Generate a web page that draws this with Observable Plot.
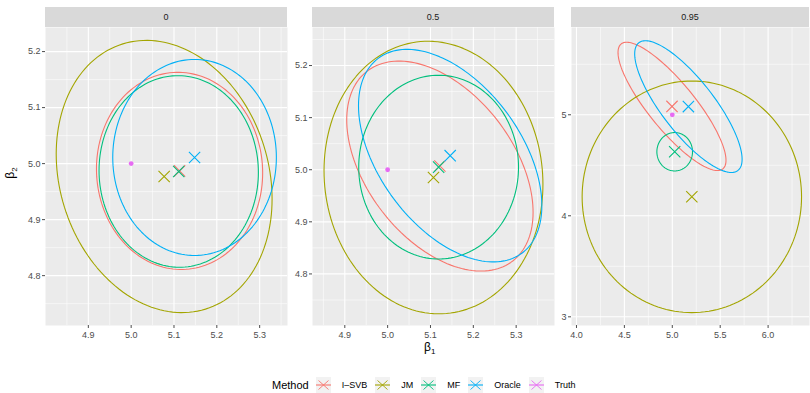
<!DOCTYPE html>
<html><head><meta charset="utf-8">
<script src="https://cdn.jsdelivr.net/npm/d3@7"></script>
<script src="https://cdn.jsdelivr.net/npm/@observablehq/plot@0.6"></script>
<style>
body{margin:0;background:#fff;font-family:"Liberation Sans",Arial,Helvetica,sans-serif;}
#chart{position:relative;width:810px;height:393px;overflow:hidden;background:#fff;}
.strip{position:absolute;top:7px;height:20px;background:#D9D9D9;color:#1A1A1A;font-size:9px;line-height:20px;text-align:center;}
.panel{position:absolute;top:27px;}
.atitle{position:absolute;font-size:12px;color:#000;white-space:nowrap;}
.atitle sub{font-size:8px;vertical-align:-3px;line-height:0;}
#legend{position:absolute;left:272px;top:376px;height:17px;display:flex;align-items:center;}
#legend .title{font-size:11px;color:#000;margin-right:7px;}
#legend .key{width:15px;height:16px;background:#F2F2F2;margin-right:11px;}
#legend .lab{font-size:9px;color:#000;margin-right:8px;}
</style></head><body><div id="chart"></div>
<script>
// ---- data ----
const methods = ["I–SVB", "JM", "MF", "Oracle"];
const methodColors = ["#F8766D", "#A3A500", "#00BF7D", "#00B0F6"];
const truthLabel = "Truth";
const truthColor = "#E76BF3";
const facetLabels = ["0", "0.5", "0.95"];
const truthX = [5, 5, 5];
const truthY = [5, 5, 5];

// estimates (cross positions = ellipse centres), per facet, in method order
const estX_0 = [5.113, 5.077, 5.111, 5.148];
const estY_0 = [4.987, 4.977, 4.986, 5.011];
const estX_05 = [5.122, 5.107, 5.119, 5.146];
const estY_05 = [5.007, 4.985, 5.005, 5.027];
const estX_095 = [4.997, 5.204, 5.025, 5.168];
const estY_095 = [5.083, 4.188, 4.634, 5.081];

// credible ellipse half-widths (beta1), half-heights (beta2), correlations
const halfW_0 = [0.194, 0.252, 0.186, 0.191];
const halfH_0 = [0.176, 0.243, 0.171, 0.175];
const corr_0 = [-0.02, -0.165, -0.01, 0.0];
const halfW_05 = [0.2175, 0.2555, 0.1865, 0.214];
const halfH_05 = [0.2015, 0.2616, 0.1763, 0.204];
const corr_05 = [-0.44, -0.05, 0.0, -0.47];
const halfW_095 = [0.5635, 1.145, 0.186, 0.5605];
const halfH_095 = [0.635, 1.1465, 0.19, 0.652];
const corr_095 = [-0.84, 0.0, 0.0, -0.80];

// axis ticks
const xTicks_0 = [4.9, 5.0, 5.1, 5.2, 5.3];
const xMinor_0 = [4.85, 4.95, 5.05, 5.15, 5.25, 5.35];
const yTicks_0 = [4.8, 4.9, 5.0, 5.1, 5.2];
const yMinor_0 = [4.75, 4.85, 4.95, 5.05, 5.15];
const xTicks_05 = [4.9, 5.0, 5.1, 5.2, 5.3];
const xMinor_05 = [4.85, 4.95, 5.05, 5.15, 5.25, 5.35];
const yTicks_05 = [4.8, 4.9, 5.0, 5.1, 5.2];
const yMinor_05 = [4.75, 4.85, 4.95, 5.05, 5.15, 5.25];
const xTicks_095 = [4.0, 4.5, 5.0, 5.5, 6.0];
const xMinor_095 = [4.25, 4.75, 5.25, 5.75, 6.25];
const yTicks_095 = [3, 4, 5];
const yMinor_095 = [3.5, 4.5, 5.5];

// ---- layout ----
const panels = [
  {label: facetLabels[0], left: 45, width: 242, xDom: [4.800, 5.365], yDom: [4.711, 5.243],
   ex: estX_0, ey: estY_0, hw: halfW_0, hh: halfH_0, rho: corr_0,
   xt: xTicks_0, xm: xMinor_0, yt: yTicks_0, ym: yMinor_0, xf: ".1f", yf: ".1f"},
  {label: facetLabels[1], left: 312, width: 242, xDom: [4.8246, 5.3895], yDom: [4.701, 5.273],
   ex: estX_05, ey: estY_05, hw: halfW_05, hh: halfH_05, rho: corr_05,
   xt: xTicks_05, xm: xMinor_05, yt: yTicks_05, ym: yMinor_05, xf: ".1f", yf: ".1f"},
  {label: facetLabels[2], left: 571, width: 238, xDom: [3.948, 6.432], yDom: [2.914, 5.864],
   ex: estX_095, ey: estY_095, hw: halfW_095, hh: halfH_095, rho: corr_095,
   xt: xTicks_095, xm: xMinor_095, yt: yTicks_095, ym: yMinor_095, xf: ".1f", yf: "d"}
];
const panelH = 298, mL = 30, mB = 20;

function ellipse(cx, cy, a, b, r, method) {
  const n = 160, s = Math.sqrt(1 - r * r);
  return d3.range(n + 1).map(i => {
    const t = 2 * Math.PI * i / n;
    return {method, x: cx + a * Math.cos(t), y: cy + b * (r * Math.cos(t) + s * Math.sin(t))};
  });
}

const chart = d3.select("#chart");

panels.forEach((p, pi) => {
  const ell = methods.flatMap((m, i) => ellipse(p.ex[i], p.ey[i], p.hw[i], p.hh[i], p.rho[i], m));
  const truth = [{x: truthX[pi], y: truthY[pi]}];
  const crossMarks = methods.map((m, i) =>
    Plot.dot([{x: p.ex[i], y: p.ey[i]}], {x: "x", y: "y", stroke: methodColors[i], symbol: "times", r: 5.2, strokeWidth: 1.1}));
  const svg = Plot.plot({
    width: mL + p.width,
    height: panelH + mB,
    marginLeft: mL, marginRight: 0, marginTop: 0, marginBottom: mB,
    style: {fontFamily: '"Liberation Sans", Arial, sans-serif', fontSize: "9px", background: "transparent", overflow: "visible"},
    x: {domain: p.xDom},
    y: {domain: p.yDom},
    color: {domain: methods, range: methodColors},
    marks: [
      Plot.frame({fill: "#EBEBEB", stroke: "none"}),
      Plot.ruleX(p.xm, {stroke: "#FFFFFF", strokeWidth: 0.55}),
      Plot.ruleY(p.ym, {stroke: "#FFFFFF", strokeWidth: 0.55}),
      Plot.ruleX(p.xt, {stroke: "#FFFFFF", strokeWidth: 1.1}),
      Plot.ruleY(p.yt, {stroke: "#FFFFFF", strokeWidth: 1.1}),
      Plot.axisX({ticks: p.xt, tickFormat: d3.format(p.xf), tickSize: 3, tickPadding: 3, color: "#4D4D4D", fontSize: 9, label: null}),
      Plot.axisY({ticks: p.yt, tickFormat: d3.format(p.yf), tickSize: 3, tickPadding: 2, color: "#4D4D4D", fontSize: 9, label: null}),
      Plot.line(ell, {x: "x", y: "y", z: "method", stroke: "method", strokeWidth: 1.1}),
      ...crossMarks,
      Plot.dot(truth, {x: "x", y: "y", fill: truthColor, r: 2.4})
    ]
  });
  chart.append("div").attr("class", "strip")
    .style("left", p.left + "px").style("width", p.width + "px").text(p.label);
  const holder = chart.append("div").attr("class", "panel").style("left", (p.left - mL) + "px");
  holder.node().appendChild(svg);
});

// axis titles
chart.append("div").attr("class", "atitle")
  .style("left", "424px").style("top", "340px").html("β<sub>1</sub>");
chart.append("div").attr("class", "atitle")
  .style("left", "4px").style("top", "166px").style("transform", "rotate(-90deg)").html("β<sub>2</sub>");

// legend
const legend = chart.append("div").attr("id", "legend");
legend.append("span").attr("class", "title").text("Method");
const legendItems = methods.map((m, i) => ({label: m, color: methodColors[i]}))
  .concat([{label: truthLabel, color: truthColor}]);
legendItems.forEach(it => {
  const key = legend.append("span").attr("class", "key");
  const ks = key.append("svg").attr("width", 15).attr("height", 16);
  ks.append("path").attr("d", "M2.5,3.5L12.5,12.5M2.5,12.5L12.5,3.5")
    .attr("stroke", it.color).attr("stroke-width", 0.9).attr("fill", "none");
  ks.append("line").attr("x1", 0).attr("x2", 15).attr("y1", 8).attr("y2", 8)
    .attr("stroke", it.color).attr("stroke-width", 1.1);
  legend.append("span").attr("class", "lab").text(it.label);
});
</script>
</body></html>
